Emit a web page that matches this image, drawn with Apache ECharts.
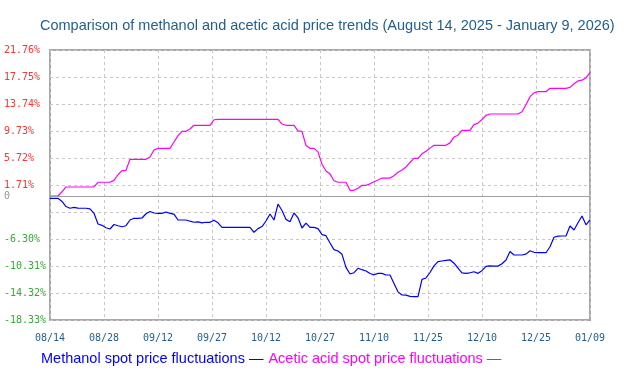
<!DOCTYPE html>
<html>
<head>
<meta charset="utf-8">
<script src="https://cdn.jsdelivr.net/npm/echarts@6/dist/echarts.min.js"></script>
<style>html,body{margin:0;padding:0;background:#fff}#c{width:640px;height:382px}</style>
</head>
<body>
<div id="c"></div>
<script>
var titleText = 'Comparison of methanol and acetic acid price trends (August 14, 2025 - January 9, 2026)';
var seriesNames = ['Methanol spot price fluctuations', 'Acetic acid spot price fluctuations'];
var xTickLabels = ['08/14','08/28','09/12','09/27','10/12','10/27','11/10','11/25','12/10','12/25','01/09'];
var yTickLabels = ['-18.33%','-14.32%','-10.31%','-6.30%','','1.71%','5.72%','9.73%','13.74%','17.75%','21.76%'];
var zeroLabel = '0';
var yMin = -18.33, yMax = 21.76;

var methanol = [
-0.26,-0.26,-0.26,-0.73,-1.48,-1.74,-1.60,-1.73,-1.74,-1.74,
-1.82,-2.49,-4.08,-4.27,-4.63,-4.82,-4.15,-4.33,-4.48,-4.33,
-3.48,-3.23,-3.23,-3.18,-2.55,-2.22,-2.44,-2.49,-2.49,-2.29,
-2.49,-2.62,-3.48,-3.48,-3.48,-3.66,-3.82,-3.75,-3.90,-3.82,
-3.82,-3.53,-3.90,-4.57,-4.57,-4.57,-4.57,-4.57,-4.57,-4.57,
-4.57,-5.31,-4.76,-4.46,-3.63,-2.59,-3.48,-1.11,-2.07,-3.39,
-3.73,-2.44,-3.16,-4.67,-3.94,-4.57,-4.57,-4.76,-5.66,-5.81,
-6.90,-7.88,-8.09,-8.58,-10.51,-11.50,-11.31,-10.65,-10.86,-11.05,
-11.43,-11.62,-11.41,-11.40,-11.65,-11.65,-12.90,-14.15,-14.62,-14.63,
-14.83,-14.87,-14.87,-12.30,-12.09,-11.28,-10.30,-9.66,-9.57,-9.48,
-9.39,-9.90,-10.61,-11.34,-11.40,-11.32,-11.16,-11.40,-11.01,-10.36,
-10.28,-10.33,-10.33,-9.97,-9.42,-8.16,-8.68,-8.68,-8.68,-8.55,
-8.04,-8.28,-8.34,-8.34,-8.34,-7.45,-6.05,-5.87,-5.86,-5.86,
-4.37,-4.97,-3.90,-2.89,-4.19,-3.47
];

var acetic = [
0.08,0.08,0.08,0.71,1.42,1.42,1.42,1.42,1.42,1.42,
1.42,1.42,2.12,2.12,2.12,2.12,2.40,3.24,3.85,3.90,
5.53,5.53,5.53,5.53,5.53,5.87,6.91,7.16,7.16,7.16,
7.16,8.10,9.04,9.69,9.69,10.03,10.58,10.58,10.58,10.58,
10.58,11.40,11.47,11.47,11.47,11.47,11.47,11.47,11.47,11.47,
11.47,11.47,11.47,11.47,11.47,11.47,11.47,11.47,10.77,10.58,
10.58,10.58,9.76,9.69,7.57,7.16,7.16,6.64,4.79,3.79,
3.36,2.34,2.12,2.12,2.12,0.93,0.93,1.22,1.67,1.67,
1.89,2.20,2.46,2.75,2.75,2.75,3.10,3.60,3.94,4.39,
5.06,5.68,5.68,6.35,6.72,7.19,7.61,7.61,7.61,7.61,
7.97,8.83,9.11,9.84,9.84,9.84,10.68,10.91,11.44,12.05,
12.26,12.26,12.26,12.26,12.26,12.26,12.26,12.26,12.58,13.64,
14.83,15.39,15.57,15.57,15.57,16.07,16.07,16.07,16.07,16.07,
16.21,16.74,17.17,17.28,17.62,18.45
];

var nPts = methanol.length;
var xStep = (nPts - 1) / (xTickLabels.length - 1);

function pairs(arr) { return arr.map(function (v, i) { return [i, v]; }); }

var chart = echarts.init(document.getElementById('c'), null, {renderer: 'canvas'});
var mono = 'DejaVu Sans Mono';
chart.setOption({
  animation: false,
  backgroundColor: '#ffffff',
  title: {
    text: titleText,
    left: 35, top: 13,
    textStyle: {fontFamily: 'Liberation Sans, Arial', fontSize: 14.5, fontWeight: 'normal', color: '#1f5f8f'}
  },
  legend: {
    left: 31, top: 346,
    itemWidth: 0, itemHeight: 0, itemGap: 0,
    icon: 'none',
    data: [
      {name: seriesNames[0], textStyle: {color: '#0000ff'}},
      {name: seriesNames[1], textStyle: {color: '#ff00ff'}}
    ],
    formatter: function (n) { return n + ' \u2014'; },
    textStyle: {fontFamily: 'Liberation Sans, Arial', fontSize: 14.5, padding: 0}
  },
  grid: {left: 50, right: 50, top: 50, bottom: 62, show: true, borderColor: '#a8a8a8', borderWidth: 2, outerBoundsMode: 'none', containLabel: false},
  xAxis: {
    type: 'value', min: 0, max: nPts - 1, interval: xStep,
    axisLine: {show: false}, axisTick: {show: false},
    splitLine: {show: true, lineStyle: {color: '#c8c8c8', type: [3, 3], width: 1}},
    axisLabel: {
      margin: 13, fontFamily: mono, fontSize: 10, color: '#1f5f8f',
      showMinLabel: true, showMaxLabel: true,
      formatter: function (v) { return xTickLabels[Math.round(v / xStep)] || ''; }
    }
  },
  yAxis: [
    {type: 'value', min: yMin, max: yMax, show: false, position: 'left', splitLine: {show: false}},
    {
      type: 'value', min: 0, max: yTickLabels.length - 1, interval: 1, position: 'left', offset: 0,
      axisLine: {show: false}, axisTick: {show: false},
      splitLine: {show: true, lineStyle: {color: '#c8c8c8', type: [3, 3], width: 1}},
      axisLabel: {
        align: 'left', margin: 46, fontFamily: mono, fontSize: 10,
        formatter: function (v) { return yTickLabels[Math.round(v)]; },
        color: function (v, i) { return Math.round(v) >= 5 ? '#ff3333' : '#33aa33'; }
      }
    }
  ],
  series: [
    {
      name: seriesNames[0], type: 'line', yAxisIndex: 0, data: pairs(methanol),
      showSymbol: false, symbol: 'none', lineStyle: {color: '#0000ff', width: 1.2}, itemStyle: {color: '#0000ff'},
      z: 3,
      markLine: {
        silent: true, symbol: 'none', animation: false,
        lineStyle: {color: '#a0a0a0', type: 'solid', width: 1.2},
        label: {position: 'start', distance: 40, formatter: zeroLabel, color: '#999999', fontFamily: mono, fontSize: 10},
        data: [{yAxis: 0}]
      }
    },
    {
      name: seriesNames[1], type: 'line', yAxisIndex: 0, data: pairs(acetic),
      showSymbol: false, symbol: 'none', lineStyle: {color: '#ff00ff', width: 1.2}, itemStyle: {color: '#ff00ff'},
      z: 4
    }
  ]
});
</script>
</body>
</html>
